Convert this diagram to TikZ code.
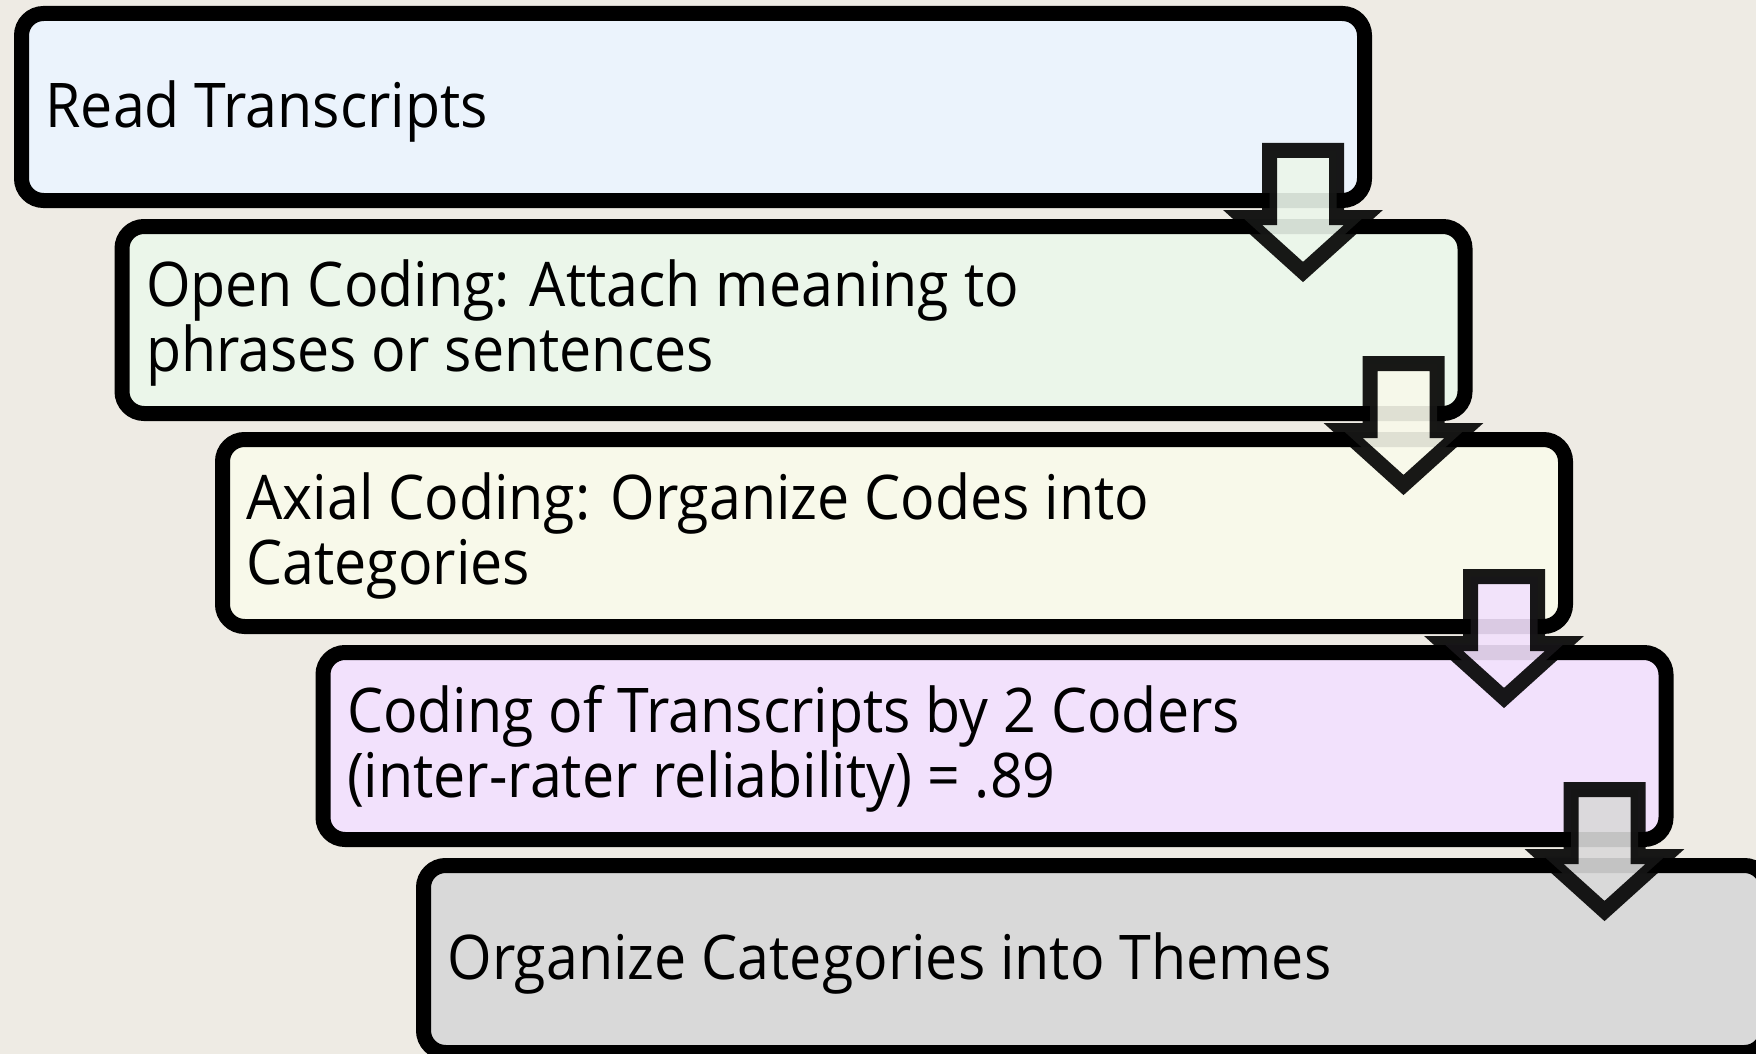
\documentclass[tikz,border=0pt]{standalone}
\usepackage{fontspec}
\setmainfont{Open Sans}[FakeStretch=0.93]
\usetikzlibrary{calc}

\definecolor{pagebg}{HTML}{EEEBE4}
\definecolor{fillA}{HTML}{EBF3FC}
\definecolor{fillB}{HTML}{EBF6EA}
\definecolor{fillC}{HTML}{F8F9EA}
\definecolor{fillD}{HTML}{F2E1FC}
\definecolor{fillE}{HTML}{D9D9D9}

\tikzset{
  stagebox/.style={draw=black, line width=7.5pt, rounded corners=11pt,
    minimum width=671.5pt, minimum height=93.5pt, inner sep=0pt, outer sep=0pt,
    anchor=north west},
  stagetext/.style={anchor=base west, inner sep=0pt, outer sep=0pt,
    font=\fontsize{30.8pt}{32.5pt}\selectfont},
  flowarrow/.style={draw=black, draw opacity=0.9, fill opacity=0.9,
    line width=7.5pt, miter limit=10}
}

% two lines stacked, baseline on the first line
\newcommand\twolines[2]{\vtop{\baselineskip=32.5pt\hbox{#1}\hbox{#2}}}

% block arrow hanging from the lower right of a stage box
\newcommand\stagearrow[2]{%
  \coordinate (#1-top) at ($(#1.south east)+(-30.75pt,25pt)$);
  \draw[flowarrow, fill=#2, shift={(#1-top)}]
    (-16.75pt,0) -- (16.75pt,0) -- (16.75pt,-33.5pt) -- (30.2pt,-33.5pt)
    -- (0,-60.75pt) -- (-30.2pt,-33.5pt) -- (-16.75pt,-33.5pt) -- cycle;
}

\begin{document}
\begin{tikzpicture}
  \useasboundingbox (0,0) rectangle (878pt,-527pt);
  \clip (0,0) rectangle (878pt,-527pt);
  \fill[pagebg] (0,0) rectangle (878pt,-527pt);

  % stage boxes
  \node[stagebox, fill=fillA] (b1) at (10.75pt,-6.75pt) {};
  \node[stagebox, fill=fillB] (b2) at (61pt,-113.25pt) {};
  \node[stagebox, fill=fillC] (b3) at (111.25pt,-219.75pt) {};
  \node[stagebox, fill=fillD] (b4) at (161.5pt,-326.25pt) {};
  \node[stagebox, fill=fillE] (b5) at (211.75pt,-432.75pt) {};

  % stage labels
  \node[stagetext] (t1) at ($(b1.west)+(12pt,-10pt)$) {Read Transcripts};
  \node[stagetext] (t2) at ($(b2.west)+(12pt,7pt)$)
    {\twolines{Open Coding: Attach meaning to}{phrases or sentences}};
  \node[stagetext] (t3) at ($(b3.west)+(12pt,7pt)$)
    {\twolines{Axial Coding: Organize Codes into}{Categories}};
  \node[stagetext] (t4) at ($(b4.west)+(12pt,7pt)$)
    {\twolines{Coding of Transcripts by 2 Coders}{(inter-rater reliability) = .89}};
  \node[stagetext] (t5) at ($(b5.west)+(12pt,-10pt)$) {Organize Categories into Themes};

  % arrows between consecutive stages
  \stagearrow{b1}{fillB}
  \stagearrow{b2}{fillC}
  \stagearrow{b3}{fillD}
  \stagearrow{b4}{fillE}
\end{tikzpicture}
\end{document}
